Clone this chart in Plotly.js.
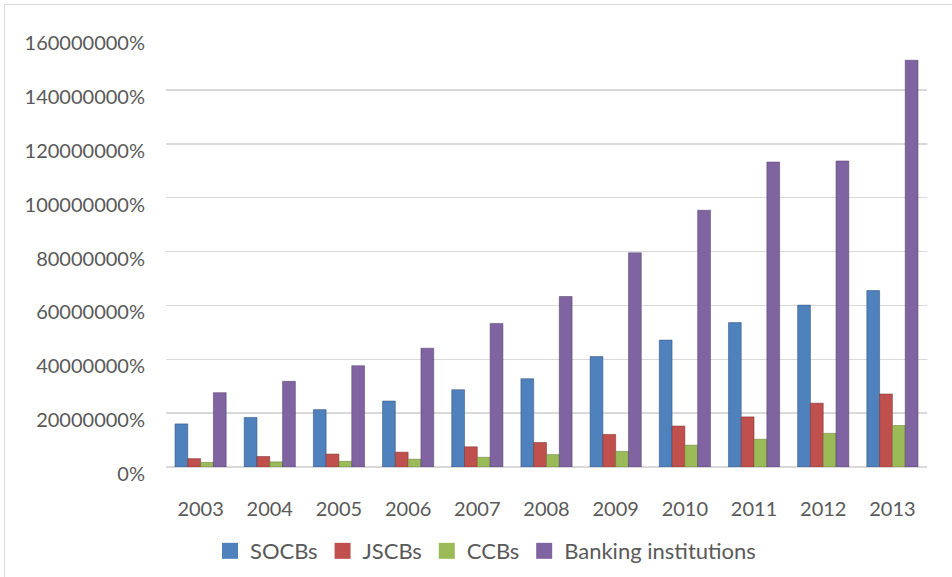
<!DOCTYPE html>
<html>
<head>
<meta charset="utf-8">
<script src="https://cdn.plot.ly/plotly-3.0.1.min.js"></script>
<style>
  html, body { margin: 0; padding: 0; background: #fff; }
  #wrap { position: relative; width: 952px; height: 577px; overflow: hidden; }
  #frame { position: absolute; left: 4px; top: 4px; width: 960px; height: 600px; border: 1.5px solid #d9d9d9; box-sizing: border-box; pointer-events: none; }
  #chart { position: absolute; left: 0; top: 0; width: 952px; height: 577px; }
</style>
</head>
<body>
<div id="wrap">
  <div id="chart"></div>
  <div id="frame"></div>
</div>
<script>
// Values are fractions (1 = 100%); axis formatted as percent.
const years = ['2003','2004','2005','2006','2007','2008','2009','2010','2011','2012','2013'];
const socbs   = [160000, 184000, 213000, 245000, 287000, 328000, 410000, 471000, 536000, 601000, 655000];
const jscbs   = [ 31000,  39000,  48000,  55000,  75000,  91000, 121000, 152000, 186000, 237000, 271000];
const ccbs    = [ 17000,  19000,  21000,  29000,  36000,  46000,  58000,  81000, 103000, 125000, 154000];
const banking = [276000, 318000, 376000, 441000, 533000, 633000, 795000, 953000, 1132000, 1136000, 1510000];
const seriesNames = ['SOCBs', 'JSCBs', 'CCBs', 'Banking institutions'];
const yTicks = [0, 200000, 400000, 600000, 800000, 1000000, 1200000, 1400000, 1600000];

const colors = ['#4f81bd', '#c0504d', '#9bbb59', '#8064a2'];
const lines  = ['#2c4d75', '#772c2a', '#5f7530', '#4d3b62'];
const bars = [socbs, jscbs, ccbs, banking].map((vals, i) => ({
  type: 'bar',
  name: seriesNames[i],
  x: years,
  y: vals,
  showlegend: false,
  marker: { color: colors[i], line: { color: lines[i], width: 0.5 } },
  hoverinfo: 'x+y+name'
}));
// legend-only entries with larger square swatches
const legendEntries = seriesNames.map((n, i) => ({
  type: 'scatter',
  mode: 'markers',
  name: n,
  x: [null],
  y: [null],
  marker: { symbol: 'square', size: 16, color: colors[i] },
  showlegend: true,
  hoverinfo: 'skip'
}));

const font = { family: 'Lato, "Open Sans", sans-serif', size: 20, color: '#595959' };

const layout = {
  width: 952,
  height: 577,
  margin: { l: 166, r: 25, t: 36, b: 110 },
  paper_bgcolor: '#ffffff',
  plot_bgcolor: '#ffffff',
  font: font,
  barmode: 'group',
  bargap: 0.26,
  bargroupgap: 0,
  showlegend: true,
  legend: {
    orientation: 'h',
    x: 0.51, xref: 'container', xanchor: 'center',
    y: 0.045, yref: 'container', yanchor: 'middle',
    font: { family: font.family, size: 22, color: '#595959' },
    itemwidth: 30,
    traceorder: 'normal'
  },
  xaxis: {
    type: 'category',
    automargin: false,
    showgrid: false,
    showline: false,
    zeroline: false,
    ticks: '',
    ticklabelstandoff: 28,
    tickfont: font
  },
  yaxis: {
    automargin: false,
    range: [0, 1600000],
    tickvals: yTicks,
    tickformat: '.0%',
    showgrid: true,
    gridcolor: '#d9d9d9',
    gridwidth: 1.5,
    zeroline: true,
    zerolinecolor: '#d9d9d9',
    zerolinewidth: 1.5,
    showline: false,
    ticks: '',
    ticklabelstandoff: 20,
    ticklabelshift: 7,
    tickfont: font
  }
};

Plotly.newPlot('chart', bars.concat(legendEntries), layout, { displayModeBar: false, staticPlot: true });
</script>
</body>
</html>
